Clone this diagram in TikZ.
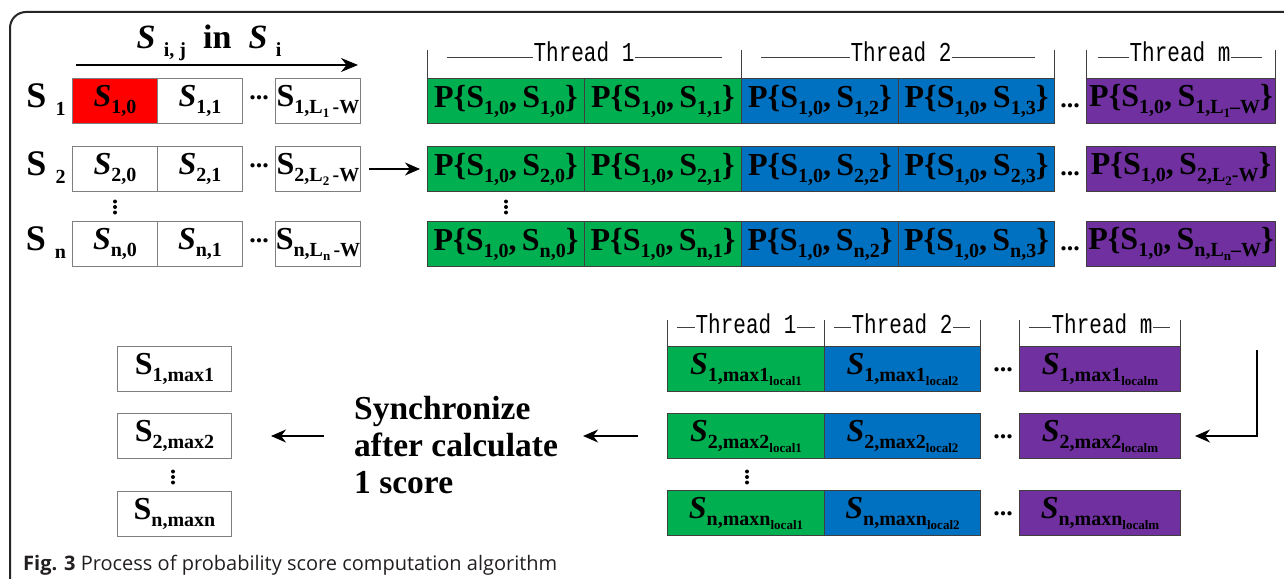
\documentclass[tikz,border=0pt]{standalone}
\usepackage{fontspec}
\setmainfont{Liberation Serif}
\newfontfamily\threadfont{Liberation Mono}
\newfontfamily\capfont{Open Sans}
\usetikzlibrary{arrows.meta}

\definecolor{cellred}{HTML}{FF0000}
\definecolor{cellgreen}{HTML}{00B050}
\definecolor{cellblue}{HTML}{0070C0}
\definecolor{cellpurple}{HTML}{7030A0}
\definecolor{edgegray}{HTML}{7F7F7F}
\definecolor{edgedark}{HTML}{3F3F3F}
\definecolor{capgray}{HTML}{231F20}

% sub- and sub-subscripts in text
\newcommand{\lsub}[1]{\raisebox{-0.22em}{\fontsize{20}{20}\selectfont #1}}
\newcommand{\lssub}[1]{\raisebox{-0.2em}{\fontsize{13}{13}\selectfont #1}}
\newcommand{\Sc}[1]{\textit{S}\lsub{#1}}
\newcommand{\Su}[1]{S\lsub{#1}}
\newcommand{\Pp}[2]{P\{\Su{#1},\,\Su{#2}\}}
\newcommand{\thrtext}[1]{\scalebox{1}[1.3]{#1}}

\tikzset{
  cell/.style={draw=edgegray, line width=1pt, minimum height=45pt, inner sep=0pt,
    anchor=north west, font=\fontsize{32}{36}\selectfont\bfseries},
  pcell/.style={cell, draw=edgedark},
  thr/.style={font=\threadfont\fontsize{21}{21}\selectfont, inner sep=0pt,
    inner xsep=1pt, anchor=base, fill=white},
  hdr/.style={line width=0.8pt, draw=black!75},
  arr/.style={-{Stealth[length=15pt,width=13pt]}, line width=1.1pt},
  hdots/.style={font=\fontsize{26}{26}\selectfont\bfseries, inner sep=0pt},
  big/.style={font=\fontsize{32}{36}\selectfont\bfseries, inner sep=0pt},
}

\begin{document}
\begin{tikzpicture}[x=1pt, y=-1pt]
\clip (0,0) rectangle (1284,578);
\draw[line width=2pt, draw=black!85, rounded corners=16pt] (10,12) rectangle (1320,600);

% title and row names
\node[big, font=\fontsize{34}{38}\selectfont\bfseries] (title) at (209,43)
  {\textit{S}\ \lsub{i, j}\ \ in\ \ \textit{S}\ \lsub{i}};
\coordinate (ts) at (76,65);
\coordinate (te) at (358,65);
\draw[-{Stealth[length=17pt,width=14pt]}, line width=1.2pt] (ts) -- (te);

\node[big, font=\fontsize{36}{40}\selectfont\bfseries] (r1) at (46,100) {S\ \lsub{1}};
\node[big, font=\fontsize{36}{40}\selectfont\bfseries] (r2) at (46,168) {S\ \lsub{2}};
\node[big, font=\fontsize{36}{40}\selectfont\bfseries] (rn) at (46,243) {S\ \lsub{n}};

% sequences
\node[cell, fill=cellred, minimum width=85pt] (s10) at (72,78) {\Sc{1,0}};
\node[cell, minimum width=85pt] (s11) at (157,78) {\Sc{1,1}};
\node[cell, minimum width=85pt] (s1L) at (275,78) {\Su{1,L\lssub{1}\,-W}};
\node[cell, minimum width=85pt] (s20) at (72,146) {\Sc{2,0}};
\node[cell, minimum width=85pt] (s21) at (157,146) {\Sc{2,1}};
\node[cell, minimum width=85pt] (s2L) at (275,146) {\Su{2,L\lssub{2}\,-W}};
\node[cell, minimum width=85pt] (sn0) at (72,221) {\Sc{n,0}};
\node[cell, minimum width=85pt] (sn1) at (157,221) {\Sc{n,1}};
\node[cell, minimum width=85pt] (snL) at (275,221) {\Su{n,L\lssub{n}\,-W}};
\node[hdots] (ds1) at (259,98) {...};
\node[hdots] (ds2) at (259,166) {...};
\node[hdots] (dsn) at (259,241) {...};
\foreach \d in {-5.5,0,5.5} \fill (115,207+\d) circle (2pt);

% thread headers
\foreach \x in {427,741,1054,1086,1275} \draw[hdr] (\x,50) -- (\x,78);
\draw[hdr] (447,57) -- (722,57);
\draw[hdr] (761,57) -- (1035,57);
\draw[hdr] (1098,57) -- (1262,57);
\node[thr] (t1) at (584,62) {\thrtext{Thread 1}};
\node[thr] (t2) at (901,62) {\thrtext{Thread 2}};
\node[thr] (tm) at (1180,62) {\thrtext{Thread m}};

% pair scores
\node[pcell, fill=cellgreen, minimum width=157pt] (p10) at (427,78) {\Pp{1,0}{1,0}};
\node[pcell, fill=cellgreen, minimum width=157pt] (p11) at (584,78) {\Pp{1,0}{1,1}};
\node[pcell, fill=cellblue, minimum width=157pt] (p12) at (741,78) {\Pp{1,0}{1,2}};
\node[pcell, fill=cellblue, minimum width=156pt] (p13) at (898,78) {\Pp{1,0}{1,3}};
\node[pcell, fill=cellpurple, minimum width=189pt] (p1L) at (1086,78) {\Pp{1,0}{1,L\lssub{1}–W}};
\node[pcell, fill=cellgreen, minimum width=157pt] (p20) at (427,146) {\Pp{1,0}{2,0}};
\node[pcell, fill=cellgreen, minimum width=157pt] (p21) at (584,146) {\Pp{1,0}{2,1}};
\node[pcell, fill=cellblue, minimum width=157pt] (p22) at (741,146) {\Pp{1,0}{2,2}};
\node[pcell, fill=cellblue, minimum width=156pt] (p23) at (898,146) {\Pp{1,0}{2,3}};
\node[pcell, fill=cellpurple, minimum width=189pt] (p2L) at (1086,146) {\Pp{1,0}{2,L\lssub{2}-W}};
\node[pcell, fill=cellgreen, minimum width=157pt] (pn0) at (427,221) {\Pp{1,0}{n,0}};
\node[pcell, fill=cellgreen, minimum width=157pt] (pn1) at (584,221) {\Pp{1,0}{n,1}};
\node[pcell, fill=cellblue, minimum width=157pt] (pn2) at (741,221) {\Pp{1,0}{n,2}};
\node[pcell, fill=cellblue, minimum width=156pt] (pn3) at (898,221) {\Pp{1,0}{n,3}};
\node[pcell, fill=cellpurple, minimum width=189pt] (pnL) at (1086,221) {\Pp{1,0}{n,L\lssub{n}–W}};
\node[hdots] (dp1) at (1070,106) {...};
\node[hdots] (dp2) at (1070,174) {...};
\node[hdots] (dpn) at (1070,249) {...};
\foreach \d in {-5.5,0,5.5} \fill (506,207+\d) circle (2pt);

\draw[arr, shorten <=8pt, shorten >=7pt] (s2L.east) -- (p20.west);

% local maxima per thread
\foreach \x in {667,824,980,1019,1180} \draw[hdr] (\x,320) -- (\x,346);
\draw[hdr] (677,327) -- (815,327);
\draw[hdr] (834,327) -- (970,327);
\draw[hdr] (1029,327) -- (1170,327);
\node[thr] (u1) at (746,333) {\thrtext{Thread 1}};
\node[thr] (u2) at (902,333) {\thrtext{Thread 2}};
\node[thr] (um) at (1102,333) {\thrtext{Thread m}};

\node[pcell, fill=cellgreen, minimum width=157pt] (b11) at (667,346) {\Sc{1,max1\lssub{local1}}};
\node[pcell, fill=cellblue, minimum width=156pt] (b12) at (824,346) {\Sc{1,max1\lssub{local2}}};
\node[pcell, fill=cellpurple, minimum width=161pt] (b1m) at (1019,346) {\Sc{1,max1\lssub{localm}}};
\node[pcell, fill=cellgreen, minimum width=157pt] (b21) at (667,413) {\Sc{2,max2\lssub{local1}}};
\node[pcell, fill=cellblue, minimum width=156pt] (b22) at (824,413) {\Sc{2,max2\lssub{local2}}};
\node[pcell, fill=cellpurple, minimum width=161pt] (b2m) at (1019,413) {\Sc{2,max2\lssub{localm}}};
\node[pcell, fill=cellgreen, minimum width=157pt] (bn1) at (667,490) {\Sc{n,maxn\lssub{local1}}};
\node[pcell, fill=cellblue, minimum width=156pt] (bn2) at (824,490) {\Sc{n,maxn\lssub{local2}}};
\node[pcell, fill=cellpurple, minimum width=161pt] (bnm) at (1019,490) {\Sc{n,maxn\lssub{localm}}};
\node[hdots] (db1) at (1003,370) {...};
\node[hdots] (db2) at (1003,437) {...};
\node[hdots] (dbn) at (1003,514) {...};
\foreach \d in {-5.5,0,5.5} \fill (747,477+\d) circle (2pt);

\coordinate (ret) at (1257,350);
\draw[arr, shorten >=14pt] (ret) |- (b2m.east);

% synchronised maxima
\node[big, align=left, anchor=west, font=\fontsize{33.5}{37}\selectfont\bfseries] (sync) at (354,445)
  {Synchronize\\after calculate\\1 score};
\draw[arr, shorten <=29pt, shorten >=25pt] (b21.west) -- (b21.west -| sync.east);

\node[cell, minimum width=114pt] (m1) at (117,346) {\Su{1,max1}};
\node[cell, minimum width=114pt] (m2) at (117,413) {\Su{2,max2}};
\node[cell, minimum width=114pt] (mn) at (117,491) {\Su{n,maxn}};
\foreach \d in {-5.5,0,5.5} \fill (173,477+\d) circle (2pt);
\draw[arr, shorten <=30pt, shorten >=39pt] (m2.east -| sync.west) -- (m2.east);

\node[anchor=base west, inner sep=0pt, text=capgray, font=\capfont\fontsize{20}{20}\selectfont] (cap) at (23,570)
  {\textbf{Fig. 3} Process of probability score computation algorithm};
\end{tikzpicture}
\end{document}
